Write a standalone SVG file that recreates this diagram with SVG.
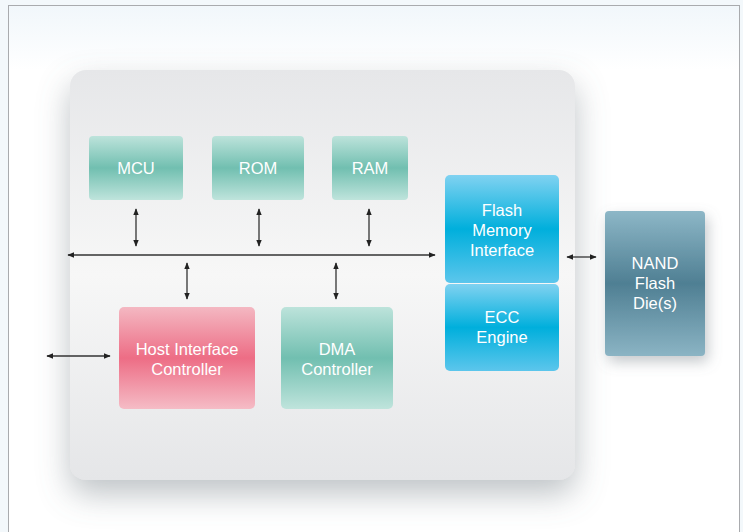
<svg xmlns="http://www.w3.org/2000/svg" width="743" height="532" viewBox="0 0 743 532">
<defs>
<linearGradient id="bgTop" x1="0" y1="0" x2="0" y2="1">
<stop offset="0" stop-color="#f1f7fb"/><stop offset="0.12" stop-color="#ffffff"/><stop offset="1" stop-color="#ffffff"/>
</linearGradient>
<linearGradient id="cont" x1="0" y1="0" x2="0" y2="1">
<stop offset="0" stop-color="#e6e7e9"/><stop offset="0.5" stop-color="#f7f7f7"/><stop offset="1" stop-color="#e5e6e8"/>
</linearGradient>
<linearGradient id="teal" x1="0" y1="0" x2="0" y2="1">
<stop offset="0" stop-color="#bde3db"/><stop offset="0.5" stop-color="#71bfb0"/><stop offset="1" stop-color="#bfe4dc"/>
</linearGradient>
<linearGradient id="pink" x1="0" y1="0" x2="0" y2="1">
<stop offset="0" stop-color="#f4b8c2"/><stop offset="0.5" stop-color="#ed6d85"/><stop offset="1" stop-color="#f5bcc6"/>
</linearGradient>
<linearGradient id="blue" x1="0" y1="0" x2="0" y2="1">
<stop offset="0" stop-color="#80d2f1"/><stop offset="0.5" stop-color="#00afdc"/><stop offset="1" stop-color="#5cc6ec"/>
</linearGradient>
<linearGradient id="slate" x1="0" y1="0" x2="0" y2="1">
<stop offset="0" stop-color="#8db7c7"/><stop offset="0.5" stop-color="#4f7f93"/><stop offset="1" stop-color="#8bb4c4"/>
</linearGradient>
<filter id="bigShadow" x="-20%" y="-20%" width="140%" height="150%">
<feDropShadow dx="0" dy="14" stdDeviation="16" flood-color="#6f7880" flood-opacity="0.45"/>
</filter>
<filter id="smShadow" x="-30%" y="-20%" width="160%" height="150%">
<feDropShadow dx="3" dy="6" stdDeviation="7" flood-color="#6f7880" flood-opacity="0.4"/>
</filter>
<marker id="ah" viewBox="0 0 10 10" refX="9" refY="5" markerWidth="7" markerHeight="7" orient="auto-start-reverse" markerUnits="userSpaceOnUse">
<path d="M0,1 L10,5 L0,9 z" fill="#222"/>
</marker>
<style>
.lbl{font-family:"Liberation Sans",Arial,sans-serif;font-size:16.5px;fill:#ffffff;text-anchor:middle;dominant-baseline:central}
.con{stroke:#333;stroke-width:1.3;fill:none;marker-start:url(#ah);marker-end:url(#ah)}
</style>
</defs>
<rect x="0" y="0" width="743" height="532" fill="#f3f8fb"/>
<rect x="8.5" y="5.5" width="731" height="540" fill="url(#bgTop)" stroke="#a9abae" stroke-width="1"/>
<g id="container">
<rect x="70" y="70" width="505" height="410" rx="16" fill="url(#cont)" filter="url(#bigShadow)"/>
</g>
<g id="connectors">
<line class="con" x1="68" y1="255" x2="435" y2="255"/>
<line class="con" x1="136" y1="209" x2="136" y2="246"/>
<line class="con" x1="259" y1="209" x2="259" y2="246"/>
<line class="con" x1="369" y1="209" x2="369" y2="246"/>
<line class="con" x1="187" y1="263" x2="187" y2="299"/>
<line class="con" x1="336" y1="263" x2="336" y2="299"/>
<line class="con" x1="47" y1="356" x2="110" y2="356"/>
<line class="con" x1="567" y1="257" x2="596" y2="257"/>
</g>
<g id="mcu">
<rect x="89" y="136" width="94" height="64" rx="4" fill="url(#teal)"/>
<text class="lbl" x="136" y="168">MCU</text>
</g>
<g id="rom">
<rect x="212" y="136" width="92" height="64" rx="4" fill="url(#teal)"/>
<text class="lbl" x="258" y="168">ROM</text>
</g>
<g id="ram">
<rect x="332" y="136" width="76" height="64" rx="4" fill="url(#teal)"/>
<text class="lbl" x="370" y="168">RAM</text>
</g>
<g id="flash-if">
<rect x="445" y="175" width="114" height="108" rx="5" fill="url(#blue)"/>
<text class="lbl" x="502" y="210">Flash</text>
<text class="lbl" x="502" y="230">Memory</text>
<text class="lbl" x="502" y="250">Interface</text>
</g>
<g id="ecc">
<rect x="445" y="284" width="114" height="87" rx="5" fill="url(#blue)"/>
<text class="lbl" x="502" y="317">ECC</text>
<text class="lbl" x="502" y="337">Engine</text>
</g>
<g id="nand">
<rect x="605" y="211" width="100" height="145" rx="4" fill="url(#slate)" filter="url(#smShadow)"/>
<text class="lbl" x="655" y="263">NAND</text>
<text class="lbl" x="655" y="283">Flash</text>
<text class="lbl" x="655" y="303">Die(s)</text>
</g>
<g id="host">
<rect x="119" y="307" width="136" height="102" rx="5" fill="url(#pink)"/>
<text class="lbl" x="187" y="349">Host Interface</text>
<text class="lbl" x="187" y="369">Controller</text>
</g>
<g id="dma">
<rect x="281" y="307" width="112" height="102" rx="5" fill="url(#teal)"/>
<text class="lbl" x="337" y="349">DMA</text>
<text class="lbl" x="337" y="369">Controller</text>
</g>
</svg>
